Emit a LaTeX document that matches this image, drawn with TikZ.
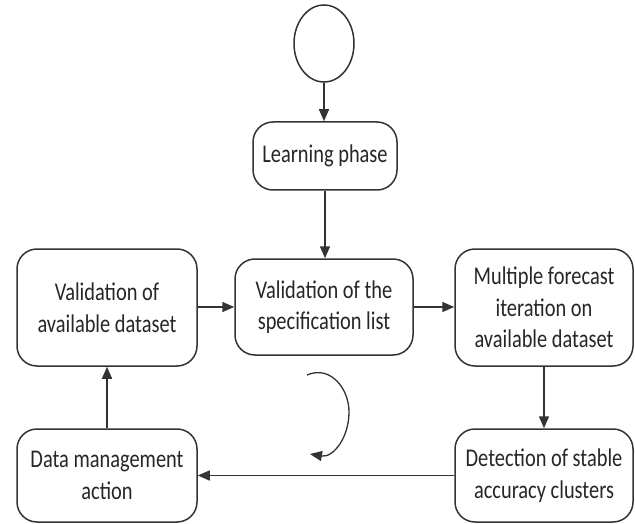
\documentclass[tikz,border=0pt]{standalone}
\usepackage{fontspec}
\setmainfont{Carlito}[FakeStretch=0.8]
\usetikzlibrary{arrows.meta,shapes.geometric}
\begin{document}
\begin{tikzpicture}[x=1pt,y=-1pt,
  line width=1.5pt,
  box/.style={draw=black!80, rounded corners=20pt, align=center, inner sep=0pt,
    font=\fontsize{25.5}{31.5}\selectfont, text=black!85},
  conn/.style={-{Triangle[length=12pt,width=10pt]}, draw=black!80}
]
\useasboundingbox (0,0) rectangle (635,524);
\node[draw=black!80, ellipse, minimum width=60pt, minimum height=77pt, inner sep=0pt] (start) at (324,43.5) {};
\node[box, minimum width=144pt, minimum height=68pt] (learn) at (325,156) {Learning phase};
\node[box, minimum width=180pt, minimum height=117pt] (valds) at (107,307.5) {Validation of\\available dataset};
\node[box, minimum width=178pt, minimum height=96pt] (spec) at (324,307) {Validation of the\\specification list};
\node[box, minimum width=178pt, minimum height=117pt] (multi) at (544,307.5) {Multiple forecast\\iteration on\\available dataset};
\node[box, minimum width=178pt, minimum height=93pt] (detect) at (544,475.5) {Detection of stable\\accuracy clusters};
\node[box, minimum width=180pt, minimum height=93pt] (dma) at (107,475.5) {Data management\\action};
\draw[conn] (start) -- (start|-learn.north);
\draw[conn] (learn) -- (learn|-spec.north);
\draw[conn] (valds.east|-spec) -- (spec.west);
\draw[conn] (spec.east) -- (multi.west|-spec);
\draw[conn] (multi) -- (multi|-detect.north);
\draw[conn] (detect.west) -- (dma.east);
\draw[conn] (dma.north) -- (valds.south);
\coordinate (c1) at (307,375);
\coordinate (c2) at (349,412);
\coordinate (c3) at (310,454);
\draw[conn, line width=1.3pt] (c1) .. controls (330,365) and (349,388) .. (c2)
  .. controls (349,438) and (333,458) .. (c3);
\end{tikzpicture}
\end{document}
